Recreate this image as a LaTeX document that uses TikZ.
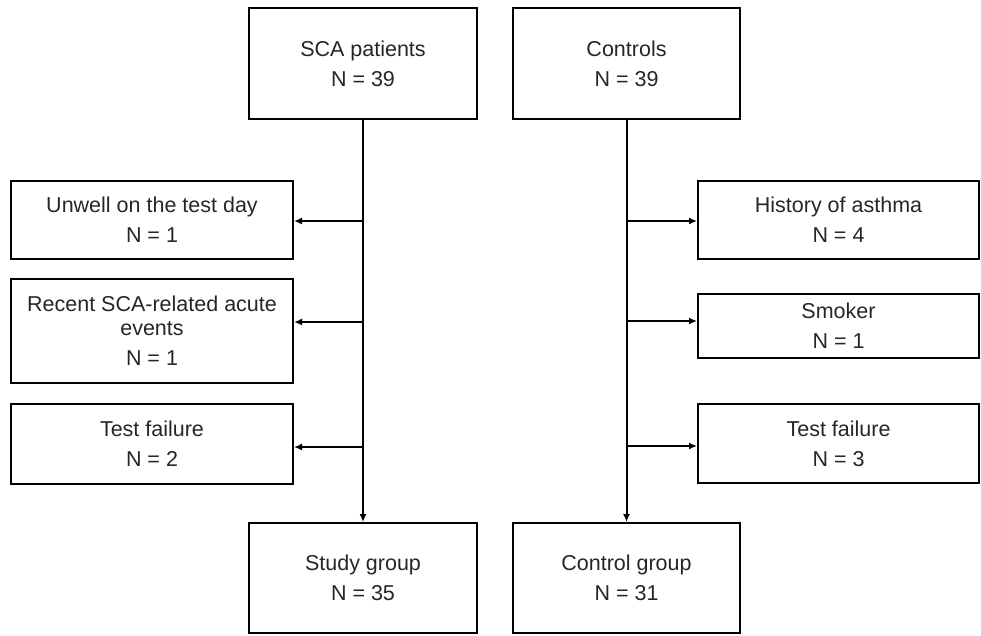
\documentclass[tikz,border=0pt]{standalone}
\usepackage{fontspec}
\setmainfont{Liberation Sans}
\usetikzlibrary{arrows.meta}
\begin{document}
\begin{tikzpicture}[x=1pt,y=-1pt,
  box/.style={draw=black,line width=2pt,rectangle,inner sep=0pt,align=center,
    font=\fontsize{21.5}{24}\selectfont,text=black!85},
  conn/.style={line width=2pt,-{Latex[length=8pt,width=7pt]}}]
\useasboundingbox (0,0) rectangle (981,635);
\node[box,minimum width=228pt,minimum height=111pt] (sca) at (363,63.5) {SCA patients\\[6pt]N = 39};
\node[box,minimum width=227pt,minimum height=111pt] (ctrl) at (626.5,63.5) {Controls\\[6pt]N = 39};
\node[box,minimum width=282pt,minimum height=78pt] (unwell) at (152,220) {Unwell on the test day\\[6pt]N = 1};
\node[box,minimum width=282pt,minimum height=104pt] (recent) at (152,331) {Recent SCA-related acute\\events\\[6pt]N = 1};
\node[box,minimum width=282pt,minimum height=80pt] (tfl) at (152,444) {Test failure\\[6pt]N = 2};
\node[box,minimum width=281pt,minimum height=78pt] (hist) at (838.5,220) {History of asthma\\[6pt]N = 4};
\node[box,minimum width=281pt,minimum height=64pt] (smoker) at (838.5,326) {Smoker\\[6pt]N = 1};
\node[box,minimum width=281pt,minimum height=79pt] (tfr) at (838.5,443.5) {Test failure\\[6pt]N = 3};
\node[box,minimum width=228pt,minimum height=110pt] (study) at (363,578) {Study group\\[6pt]N = 35};
\node[box,minimum width=227pt,minimum height=110pt] (cgroup) at (626.5,578) {Control group\\[6pt]N = 31};
\draw[conn] (sca.south) -- (study.north);
\draw[conn] (ctrl.south) -- (cgroup.north);
\coordinate (l1) at (363,221);
\coordinate (l2) at (363,322);
\coordinate (l3) at (363,447);
\coordinate (r1) at (626.5,221);
\coordinate (r2) at (626.5,321);
\coordinate (r3) at (626.5,446);
\draw[conn] (l1) -- (unwell.east |- l1);
\draw[conn] (l2) -- (recent.east |- l2);
\draw[conn] (l3) -- (tfl.east |- l3);
\draw[conn] (r1) -- (hist.west |- r1);
\draw[conn] (r2) -- (smoker.west |- r2);
\draw[conn] (r3) -- (tfr.west |- r3);
\end{tikzpicture}
\end{document}
